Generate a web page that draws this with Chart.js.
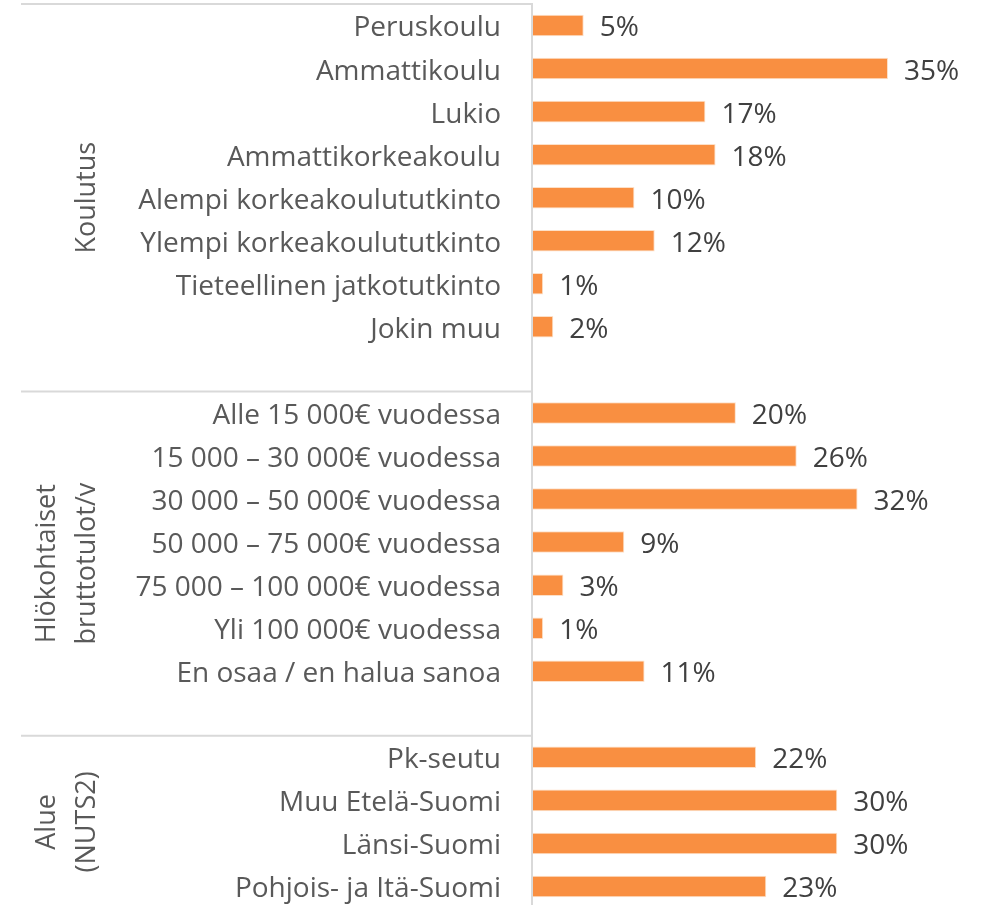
<!DOCTYPE html>
<html>
<head>
<meta charset="utf-8">
<script src="https://cdn.jsdelivr.net/npm/chart.js@4"></script>
<style>
  html, body { margin: 0; padding: 0; background: #fff; overflow: hidden; }
  #wrap { width: 984px; height: 908px; position: relative; }
</style>
</head>
<body>
<div id="wrap"><canvas id="myChart"></canvas></div>
<script>
// categories, with an empty row after each group
const koulutus = ["Peruskoulu", "Ammattikoulu", "Lukio", "Ammattikorkeakoulu",
  "Alempi korkeakoulututkinto", "Ylempi korkeakoulututkinto",
  "Tieteellinen jatkotutkinto", "Jokin muu"]
const koulutusValues = [5, 35, 17, 18, 10, 12, 1, 2]

const tulot = ["Alle 15 000€ vuodessa", "15 000 – 30 000€ vuodessa",
  "30 000 – 50 000€ vuodessa", "50 000 – 75 000€ vuodessa",
  "75 000 – 100 000€ vuodessa", "Yli 100 000€ vuodessa",
  "En osaa / en halua sanoa"]
const tulotValues = [20, 26, 32, 9, 3, 1, 11]

const alue = ["Pk-seutu", "Muu Etelä-Suomi", "Länsi-Suomi", "Pohjois- ja Itä-Suomi"]
const alueValues = [22, 30, 30, 23]

const groupTitles = [["Koulutus"], ["Hlökohtaiset", "bruttotulot/v"], ["Alue", "(NUTS2)"]]

const labels = [...koulutus, "", ...tulot, "", ...alue]
const values = [...koulutusValues, null, ...tulotValues, null, ...alueValues]
// index of first row of each group (group ends just before next one)
const groupStarts = [0, koulutus.length + 1, koulutus.length + tulot.length + 2]

const FONT = "'Open Sans', sans-serif"
const SIZE = 28
const GRID = "#d9d9d9"

const valueLabels = {
  id: 'valueLabels',
  afterDatasetsDraw(chart) {
    const ctx = chart.ctx
    const meta = chart.getDatasetMeta(0)
    ctx.save()
    ctx.font = SIZE + "px " + FONT
    ctx.fillStyle = "#404040"
    ctx.textAlign = "left"
    ctx.textBaseline = "middle"
    meta.data.forEach((bar, i) => {
      const v = values[i]
      if (v === null) return
      ctx.fillText(v + "%", bar.x + 16, bar.y + 3)
    })
    ctx.restore()
  }
}

const groupFrame = {
  id: 'groupFrame',
  afterDraw(chart) {
    const ctx = chart.ctx
    const y = chart.scales.y
    const area = chart.chartArea
    const half = (y.getPixelForValue(1) - y.getPixelForValue(0)) / 2
    const left = 21
    const axisX = area.left - 1
    ctx.save()
    ctx.strokeStyle = GRID
    ctx.lineWidth = 2
    // vertical axis line
    ctx.beginPath()
    ctx.moveTo(axisX, area.top - 1)
    ctx.lineTo(axisX, area.bottom + 2)
    ctx.stroke()
    const bounds = groupStarts.map(s => y.getPixelForValue(s) - half)
    bounds.push(area.bottom)
    for (let g = 0; g < groupStarts.length; g++) {
      ctx.beginPath()
      ctx.moveTo(left, bounds[g])
      ctx.lineTo(axisX, bounds[g])
      ctx.stroke()
    }
    // group titles, rotated
    ctx.font = (SIZE - 1) + "px " + FONT
    ctx.fillStyle = "#595959"
    ctx.textAlign = "center"
    ctx.textBaseline = "middle"
    groupTitles.forEach((lines, g) => {
      const cy = (bounds[g] + bounds[g + 1]) / 2
      lines.forEach((t, k) => {
        const cx = 87 - (lines.length - 1 - k) * 40
        ctx.save()
        ctx.translate(cx, cy)
        ctx.rotate(-Math.PI / 2)
        ctx.fillText(t, 0, 0)
        ctx.restore()
      })
    })
    ctx.restore()
  }
}

const ctx = document.getElementById("myChart").getContext("2d")
const myChart = new Chart(ctx, {
  type: 'bar',
  data: {
    labels: labels,
    datasets: [{
      data: values,
      backgroundColor: "#F98F41",
      borderColor: "#fde0c8",
      borderWidth: 1,
      categoryPercentage: 1,
      barPercentage: 0.5,
      clip: false
    }]
  },
  options: {
    indexAxis: 'y',
    responsive: true,
    maintainAspectRatio: false,
    animation: false,
    layout: { padding: { top: 4, right: 25, bottom: 0, left: 0 } },
    plugins: {
      legend: { display: false },
      tooltip: { enabled: false }
    },
    scales: {
      x: {
        display: false,
        min: 0,
        max: 42
      },
      y: {
        grid: { display: false, drawTicks: false },
        border: { display: false },
        afterFit(scale) {
          scale.width = 533
          scale.paddingTop = 0
          scale.paddingBottom = 0
        },
        ticks: {
          padding: 32,
          labelOffset: 3,
          color: "#595959",
          font: { family: FONT, size: SIZE },
          autoSkip: false
        }
      }
    }
  },
  plugins: [valueLabels, groupFrame]
})
</script>
</body>
</html>
